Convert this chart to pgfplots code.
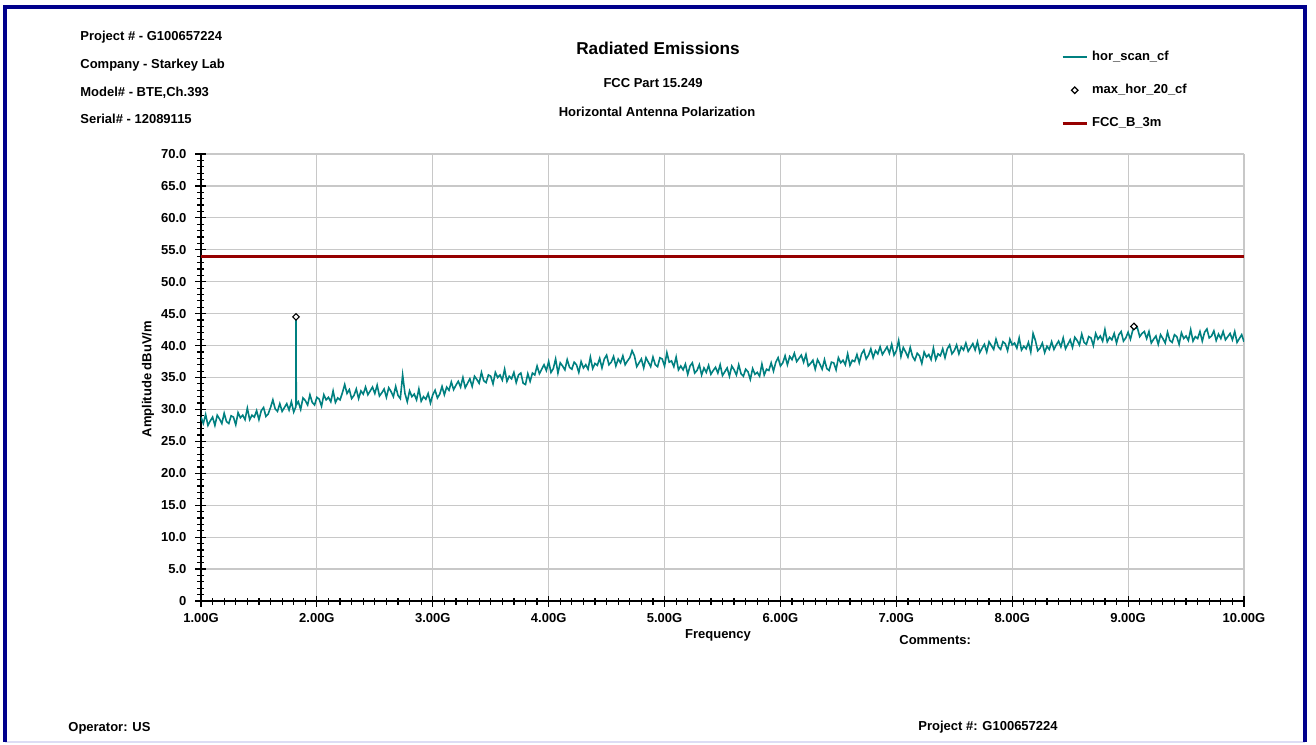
\documentclass[border=0pt]{standalone}
\usepackage{pgfplots}
\usepackage{pgfplotstable}
\pgfplotsset{compat=1.18}
\usepackage{fontspec}
\setmainfont{Liberation Sans}

\definecolor{scan}{RGB}{0,128,128}
\definecolor{limit}{RGB}{150,0,0}
\definecolor{gridc}{RGB}{200,200,200}
\definecolor{frame}{RGB}{0,0,140}

\newcommand{\sz}[1]{\bfseries\fontsize{#1}{#1}\selectfont}

\pgfplotsset{
  lineleg/.style={legend image code/.code={\draw[##1] (0pt,0pt) -- (12pt,0pt);}},
  markleg/.style={legend image code/.code={\draw[##1] plot coordinates {(6pt,0pt)};}},
}

% horizontal scan, frequency in GHz, amplitude in dBuV/m
\pgfplotstableread{
f a
1.00 28.8
1.02 27.8
1.04 29.2
1.06 27.5
1.08 28.2
1.10 28.8
1.12 27.5
1.14 29.1
1.16 28.5
1.18 27.8
1.20 29.4
1.22 28.1
1.24 27.8
1.26 29.0
1.28 28.8
1.30 27.6
1.32 29.5
1.34 28.7
1.36 29.1
1.38 28.4
1.40 30.2
1.42 28.4
1.44 29.1
1.46 28.8
1.48 29.8
1.50 28.4
1.52 29.8
1.54 30.3
1.56 28.9
1.58 29.3
1.60 30.3
1.62 31.5
1.64 30.1
1.66 29.7
1.68 30.9
1.70 29.7
1.72 30.3
1.74 30.9
1.76 29.9
1.78 31.2
1.80 29.6
1.818 30.4
1.820 44.5
1.822 30.7
1.84 31.2
1.86 30.0
1.88 31.8
1.90 31.4
1.92 30.7
1.94 32.3
1.96 31.1
1.98 30.7
2.00 31.9
2.02 31.6
2.04 30.5
2.06 32.3
2.08 31.5
2.10 31.9
2.12 31.2
2.14 32.9
2.16 31.1
2.18 31.8
2.20 31.5
2.22 32.6
2.24 33.9
2.26 32.5
2.28 33.1
2.30 31.7
2.32 32.2
2.34 33.2
2.36 31.7
2.38 32.9
2.40 32.4
2.42 33.5
2.44 32.3
2.46 32.9
2.48 33.5
2.50 32.5
2.52 33.8
2.54 32.1
2.56 32.6
2.58 33.2
2.60 31.9
2.62 33.4
2.64 32.8
2.66 32.0
2.68 33.6
2.70 32.2
2.72 31.7
2.74 35.4
2.76 32.5
2.78 31.2
2.80 32.9
2.82 32.0
2.84 32.4
2.86 31.5
2.88 33.2
2.90 31.3
2.92 32.0
2.94 31.6
2.96 32.5
2.98 31.0
3.00 32.3
3.02 33.0
3.04 31.8
3.06 32.4
3.08 33.6
3.10 32.3
3.12 33.5
3.14 33.0
3.16 34.3
3.18 33.1
3.20 33.8
3.22 34.4
3.24 33.5
3.26 35.0
3.28 33.4
3.30 34.1
3.32 34.8
3.34 33.6
3.36 35.2
3.38 34.7
3.40 34.1
3.42 35.8
3.44 34.5
3.46 34.2
3.48 35.4
3.50 35.2
3.52 34.0
3.54 35.8
3.56 35.0
3.58 35.4
3.60 34.6
3.62 36.3
3.64 34.4
3.66 35.2
3.68 34.8
3.70 35.8
3.72 34.2
3.74 35.4
3.76 35.7
3.78 34.1
3.80 33.9
3.82 35.6
3.84 34.4
3.86 35.7
3.88 35.4
3.90 36.8
3.92 35.6
3.94 36.3
3.96 37.0
3.98 36.1
4.00 37.5
4.02 35.8
4.04 36.4
4.06 37.9
4.08 35.7
4.10 37.3
4.12 36.8
4.14 36.2
4.16 37.8
4.18 36.6
4.20 36.3
4.22 37.4
4.24 37.0
4.26 35.8
4.28 37.5
4.30 36.5
4.32 37.0
4.34 36.3
4.36 38.2
4.38 36.4
4.40 37.2
4.42 36.9
4.44 38.0
4.46 36.5
4.48 37.9
4.50 38.5
4.52 37.0
4.54 37.4
4.56 38.3
4.58 36.8
4.60 37.9
4.62 37.3
4.64 38.4
4.66 37.0
4.68 37.6
4.70 38.1
4.72 39.2
4.74 38.4
4.76 36.7
4.78 37.3
4.80 37.9
4.82 36.5
4.84 38.1
4.86 37.4
4.88 36.7
4.90 38.2
4.92 37.0
4.94 36.7
4.96 38.1
4.98 37.9
5.00 36.8
5.02 38.9
5.04 37.4
5.06 37.6
5.08 36.7
5.10 38.2
5.12 36.2
5.14 36.8
5.16 36.2
5.18 37.1
5.20 35.5
5.22 36.8
5.24 37.3
5.26 35.7
5.28 36.1
5.30 37.0
5.32 35.4
5.34 36.5
5.36 35.8
5.38 36.9
5.40 35.5
5.42 36.1
5.44 36.6
5.46 35.7
5.48 37.0
5.50 35.3
5.52 35.9
5.54 36.5
5.56 35.2
5.58 36.8
5.60 36.2
5.62 35.4
5.64 37.0
5.66 35.6
5.68 35.2
5.70 36.3
5.72 35.9
5.74 34.7
5.76 36.4
5.78 35.5
5.80 35.8
5.82 35.2
5.84 37.1
5.86 35.4
5.88 36.3
5.90 36.1
5.92 37.3
5.94 36.0
5.96 37.4
5.98 38.1
6.00 36.8
6.02 37.3
6.04 38.4
6.06 37.0
6.08 38.3
6.10 37.8
6.12 38.8
6.14 37.5
6.16 38.0
6.18 38.5
6.20 37.4
6.22 38.6
6.24 36.8
6.26 37.2
6.28 37.7
6.30 36.3
6.32 37.8
6.34 37.1
6.36 36.3
6.38 37.8
6.40 36.4
6.42 36.1
6.44 37.4
6.46 37.3
6.48 36.2
6.50 38.1
6.52 37.3
6.54 37.7
6.56 37.0
6.58 38.7
6.60 36.9
6.62 37.7
6.64 37.5
6.66 38.6
6.68 37.3
6.70 38.7
6.72 39.3
6.74 37.9
6.76 38.5
6.78 39.5
6.80 38.1
6.82 39.2
6.84 38.7
6.86 39.8
6.88 38.6
6.90 39.2
6.92 39.8
6.94 38.8
6.96 40.2
6.98 38.5
7.00 39.2
7.02 40.8
7.04 38.3
7.06 39.7
7.08 39.0
7.10 38.2
7.12 39.7
7.14 38.3
7.16 37.7
7.18 38.8
7.20 38.4
7.22 37.2
7.24 39.0
7.26 38.2
7.28 38.6
7.30 37.8
7.32 39.6
7.34 37.8
7.36 38.7
7.38 38.4
7.40 39.5
7.42 38.1
7.44 39.5
7.46 40.1
7.48 38.7
7.50 39.2
7.52 40.1
7.54 38.7
7.56 39.8
7.58 39.3
7.60 40.4
7.62 39.1
7.64 39.7
7.66 40.3
7.68 39.3
7.70 40.6
7.72 38.9
7.74 39.6
7.76 40.2
7.78 39.0
7.80 40.6
7.82 40.0
7.84 39.4
7.86 41.0
7.88 39.8
7.90 39.4
7.92 40.6
7.94 40.3
7.96 39.2
7.98 41.0
8.00 40.1
8.02 40.4
8.04 39.6
8.06 41.2
8.08 39.3
8.10 39.9
8.12 39.5
8.14 40.5
8.16 39.0
8.18 41.9
8.20 40.8
8.22 39.2
8.24 39.6
8.26 40.4
8.28 38.9
8.30 39.9
8.32 39.4
8.34 40.6
8.36 39.4
8.38 40.1
8.40 40.7
8.42 39.8
8.44 41.2
8.46 39.5
8.48 40.2
8.50 40.9
8.52 39.7
8.54 41.3
8.56 40.8
8.58 40.1
8.60 41.8
8.62 40.5
8.64 40.2
8.66 41.4
8.68 41.2
8.70 40.0
8.72 41.9
8.74 41.0
8.76 41.5
8.78 40.7
8.80 42.5
8.82 40.6
8.84 41.3
8.86 40.9
8.88 41.9
8.90 40.4
8.92 41.7
8.94 42.2
8.96 40.7
8.98 41.2
9.00 42.1
9.02 41.0
9.04 42.4
9.06 42.7
9.08 42.8
9.10 41.4
9.12 41.9
9.14 42.2
9.16 41.1
9.18 42.2
9.20 40.4
9.22 41.0
9.24 41.5
9.26 40.2
9.28 41.7
9.30 41.1
9.32 40.4
9.34 42.1
9.36 40.8
9.38 40.5
9.40 41.7
9.42 41.4
9.44 40.2
9.46 42.0
9.48 41.1
9.50 41.5
9.52 40.8
9.54 42.5
9.56 40.7
9.58 41.4
9.60 41.1
9.62 42.2
9.64 40.7
9.66 42.1
9.68 42.6
9.70 41.2
9.72 41.5
9.74 42.3
9.76 40.8
9.78 41.8
9.80 41.1
9.82 42.2
9.84 40.9
9.86 41.4
9.88 41.9
9.90 40.9
9.92 42.2
9.94 40.5
9.96 41.1
9.98 41.7
10.00 40.6
}\scan

\begin{document}
\begin{tikzpicture}
\begin{axis}[
  scale only axis, width=521.5pt, height=223.5pt,
  xmin=1, xmax=10, ymin=0, ymax=70,
  axis x line*=bottom, axis y line*=left,
  axis line style={-, black, line width=0.6pt},
  xtick={1,2,...,10},
  xticklabels={1.00G,2.00G,3.00G,4.00G,5.00G,6.00G,7.00G,8.00G,9.00G,10.00G},
  ytick={0,5,...,70},
  yticklabels={0,5.0,10.0,15.0,20.0,25.0,30.0,35.0,40.0,45.0,50.0,55.0,60.0,65.0,70.0},
  minor x tick num=9, minor y tick num=4,
  tick align=center,
  major tick length=5.5pt, minor tick length=3.5pt,
  tick style={black, line width=0.6pt},
  grid=major, major grid style={gridc, line width=0.6pt},
  /pgf/number format/assume math mode=true,
  ticklabel style={font=\sz{6.5}},
  yticklabel style={xshift=-1pt},
  xlabel={Frequency}, ylabel={Amplitude dBuV/m},
  every axis x label/.style={at={(axis description cs:0.4957,-0.078)},
    anchor=center, font=\sz{6.5}},
  every axis y label/.style={at={(axis description cs:-0.0508,0.4966)},
    anchor=center, rotate=90, font=\sz{6.5}},
  legend cell align=left,
  legend style={at={(0.8245,1.143)}, anchor=west, draw=none, fill=none,
    inner sep=0pt, row sep=6.5pt, font=\sz{6.5},
    /tikz/every even column/.append style={column sep=4pt}},
]
\addplot[scan, line width=0.8pt, mark=none, lineleg] table[x=f, y=a] {\scan};
\addlegendentry{hor\_scan\_cf}
\addplot[only marks, mark=square*, mark size=1.15pt,
  mark options={fill=white, draw=black, line width=0.55pt, rotate=45}, markleg]
  coordinates {(1.82,44.5) (9.05,43.0)};
\addlegendentry{max\_hor\_20\_cf}
\addplot[limit, line width=1.4pt, mark=none, lineleg] coordinates {(1,54) (10,54)};
\addlegendentry{FCC\_B\_3m}
\end{axis}

\begin{scope}[shift={(-100.5pt,300.5pt)}, x=0.5pt, y=-0.5pt]
  \path (0,0) rectangle (1316,744);
  \draw[gridc!70!blue!30, line width=1pt] (5,742) -- (1305,742);
  \draw[frame, line width=2pt] (5,742) -- (5,7) -- (1305,7) -- (1305,742);
  \node[anchor=west, inner sep=0pt, font=\sz{6.5}] at (80,37) {Project \# - G100657224};
  \node[anchor=west, inner sep=0pt, font=\sz{6.5}] at (80,65) {Company - Starkey Lab};
  \node[anchor=west, inner sep=0pt, font=\sz{6.5}] at (80,93) {Model\# - BTE,Ch.393};
  \node[anchor=west, inner sep=0pt, font=\sz{6.5}] at (80,119) {Serial\# - 12089115};
  \node[inner sep=0pt, font=\sz{8.6}] at (658,48) {Radiated Emissions};
  \node[inner sep=0pt, font=\sz{6.5}] at (653,83) {FCC Part 15.249};
  \node[inner sep=0pt, font=\sz{6.5}] at (657,112) {Horizontal Antenna Polarization};
  \node[anchor=west, inner sep=0pt, font=\sz{6.5}] at (899,640) {Comments:};
  \node[anchor=west, inner sep=0pt, font=\sz{6.5}] at (68,728) {Operator: US};
  \node[anchor=west, inner sep=0pt, font=\sz{6.5}] at (918,727) {Project \#: G100657224};
\end{scope}
\end{tikzpicture}
\end{document}
